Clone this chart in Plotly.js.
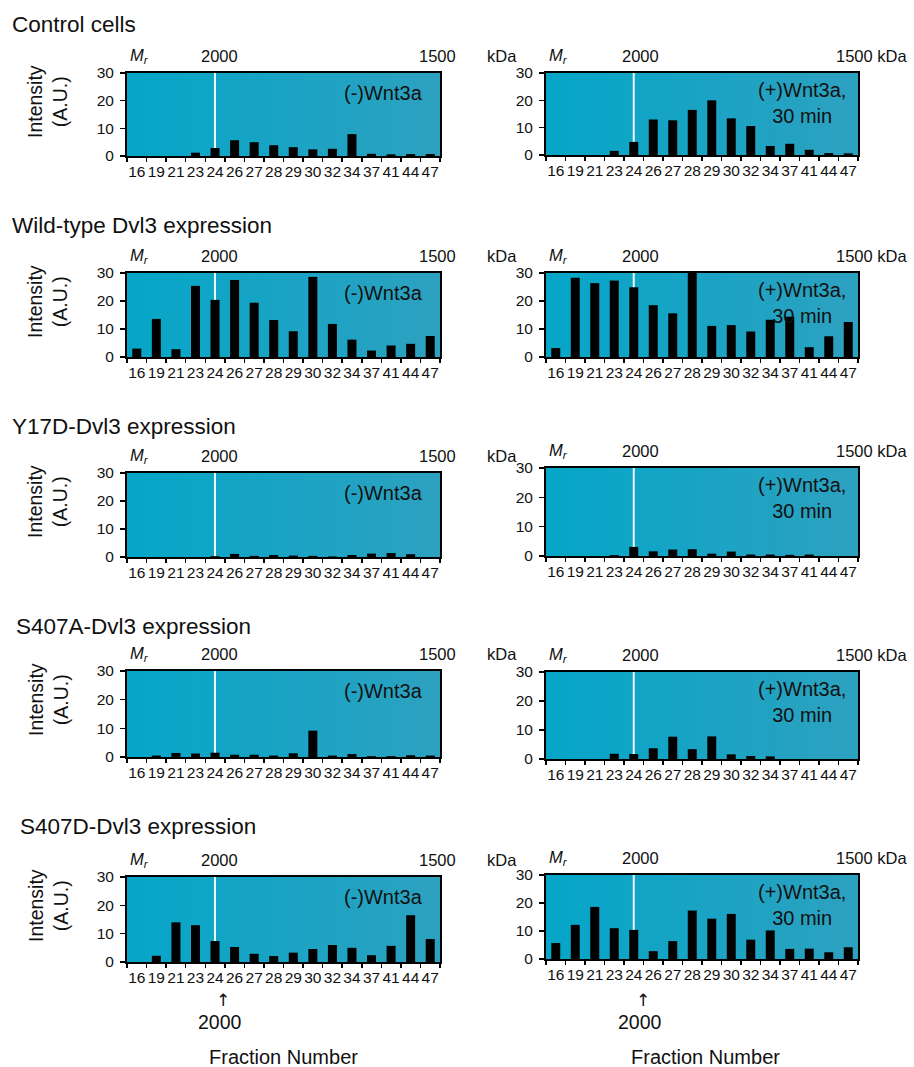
<!DOCTYPE html>
<html><head><meta charset="utf-8">
<script src="https://cdn.plot.ly/plotly-3.0.1.min.js"></script>
<style>html,body{margin:0;padding:0;background:#fff}</style>
</head><body><div id="chart" style="width:914px;height:1067px"></div>
<script>
// ---- data ----
const fractions = ['16','19','21','23','24','26','27','28','29','30','32','34','37','41','44','47'];
const markerFraction = '24';
const rowTitles = ['Control cells','Wild-type Dvl3 expression','Y17D-Dvl3 expression','S407A-Dvl3 expression','S407D-Dvl3 expression'];
const conditionMinus = '(-)Wnt3a';
const conditionPlus = '(+)Wnt3a,<br>30 min';
const controlMinus = [0,0,0,1.2,2.9,5.7,5.0,3.9,3.2,2.4,2.6,7.9,0.8,0.6,0.7,0.7];
const controlPlus  = [0,0,0,1.5,4.8,13.0,12.7,16.5,20.0,13.4,10.6,3.3,4.1,1.9,0.7,0.6];
const wtMinus      = [3.0,13.6,2.8,25.4,20.4,27.5,19.4,13.2,9.2,28.6,11.8,6.2,2.3,4.1,4.7,7.5];
const wtPlus       = [3.2,28.3,26.4,27.3,24.9,18.5,15.6,30.4,11.1,11.4,9.1,13.3,14.4,3.5,7.4,12.5];
const y17dMinus    = [0,0,0,0,0.3,1.1,0.4,0.7,0.5,0.4,0.2,0.7,1.2,1.4,1.0,0];
const y17dPlus     = [0,0,0,0.3,3.1,1.6,2.2,2.3,0.8,1.5,0.5,0.5,0.4,0.5,0,0];
const s407aMinus   = [0,0.5,1.4,1.2,1.5,0.8,0.8,0.5,1.3,9.2,0.5,1.0,0.3,0.3,0.6,0.5];
const s407aPlus    = [0,0,0,1.8,1.7,3.7,7.7,3.4,7.8,1.6,1.0,0.9,0,0,0,0];
const s407dMinus   = [0,2.2,14.0,13.0,7.4,5.3,2.9,2.1,3.3,4.6,6.0,5.0,2.4,5.7,16.5,8.1];
const s407dPlus    = [5.7,12.2,18.6,11.0,10.4,2.8,6.4,17.3,14.4,16.1,6.9,10.2,3.6,3.7,2.4,4.2];
const yTicks = [0,10,20,30];
const mwLabelHigh = '2000';
const mwLabelLow = '1500';

const seriesRows = [
  [controlMinus, controlPlus],
  [wtMinus, wtPlus],
  [y17dMinus, y17dPlus],
  [s407aMinus, s407aPlus],
  [s407dMinus, s407dPlus]
];

// ---- layout geometry (pixels) ----
const W = 914, H = 1067;
const px = x => x / W, py = y => 1 - y / H;
const colX = [[127, 440], [546, 858]];
const rowY = [
  [[73,156],[73,155]],
  [[273,357],[273,357]],
  [[473,557],[468,556]],
  [[671,757],[672,759]],
  [[877,962],[875,959]]
];
const titleX = [10,10,10,14,18];
const titleYs = [25,226,427,626,826];
const font = 'Liberation Sans, Arial, Helvetica, sans-serif';

const bgLeft = [5,166,200], bgRight = [46,161,192];
const NSTRIP = 30;

const data = [], shapes = [], annotations = [];
const layout = {
  width: W, height: H, margin: {l:0,r:0,t:0,b:0},
  paper_bgcolor: '#ffffff', plot_bgcolor: 'rgb(20,164,197)',
  showlegend: false, bargap: 0.54,
  font: {family: font, color: '#111', size: 15}
};

const markerIdx = fractions.indexOf(markerFraction);
let n = 0;
for (let r = 0; r < 5; r++) {
  for (let c = 0; c < 2; c++) {
    n++;
    const xa = n === 1 ? 'xaxis' : 'xaxis' + n;
    const ya = n === 1 ? 'yaxis' : 'yaxis' + n;
    const xr = n === 1 ? 'x' : 'x' + n;
    const yr = n === 1 ? 'y' : 'y' + n;
    const [top, bot] = rowY[r][c];
    const [lft, rgt] = colX[c];
    layout[xa] = {
      domain: [px(lft), px(rgt)], anchor: yr, type: 'category',
      categoryorder: 'array', categoryarray: fractions,
      tickson: 'boundaries', ticks: 'outside', ticklen: 4, tickwidth: 1.5, tickcolor: '#000',
      showline: true, mirror: true, linecolor: '#000', linewidth: 2,
      showgrid: false, zeroline: false, fixedrange: true, tickangle: 0,
      tickfont: {size: 15.5, color: '#111', family: font}
    };
    layout[ya] = {
      domain: [py(bot), py(top)], anchor: xr, range: [0, 30],
      tickvals: yTicks, ticks: 'outside', ticklen: 5, tickwidth: 1.5, tickcolor: '#000',
      showline: true, mirror: true, linecolor: '#000', linewidth: 2,
      showgrid: false, zeroline: false, fixedrange: true, ticklabelstandoff: 3,
      tickfont: {size: 15.5, color: '#111', family: font}
    };
    data.push({
      type: 'bar', x: fractions, y: seriesRows[r][c], xaxis: xr, yaxis: yr,
      marker: {color: '#000', line: {width: 0}}, cliponaxis: false, hoverinfo: 'x+y'
    });
    // gradient background strips
    for (let i = 0; i < NSTRIP; i++) {
      const t = (i + 0.5) / NSTRIP;
      const col = bgLeft.map((v, k) => Math.round(v + (bgRight[k] - v) * t));
      shapes.push({
        type: 'rect', xref: xr + ' domain', yref: yr + ' domain',
        x0: i / NSTRIP, x1: Math.min(1, (i + 1) / NSTRIP + 0.004), y0: 0, y1: 1,
        fillcolor: 'rgb(' + col.join(',') + ')', line: {width: 0}, layer: 'below'
      });
    }
    // white marker line at fraction 24
    shapes.push({
      type: 'line', xref: xr, yref: yr + ' domain',
      x0: markerIdx, x1: markerIdx, y0: 0, y1: 1,
      line: {color: '#eef8fb', width: 2}, layer: 'below'
    });
    // condition label
    if (c === 0) {
      annotations.push({text: conditionMinus, xref: 'paper', yref: 'paper',
        x: px(rgt - 15), y: py(top + 20), xanchor: 'right', yanchor: 'middle',
        showarrow: false, font: {size: 20, color: '#111', family: font}});
    } else {
      annotations.push({text: conditionPlus, xref: 'paper', yref: 'paper',
        x: px(802), y: py(top + 4), xanchor: 'center', yanchor: 'top', align: 'center',
        showarrow: false, font: {size: 20, color: '#111', family: font}});
    }
    // top molecular-weight labels
    const ty = py(top - 17);
    annotations.push({text: '<i>M</i><sub><i>r</i></sub>', xref: 'paper', yref: 'paper',
      x: px(lft + 1), y: ty, xanchor: 'left', yanchor: 'middle', showarrow: false,
      font: {size: 16.5, color: '#111', family: font}});
    annotations.push({text: mwLabelHigh, xref: 'paper', yref: 'paper',
      x: px(c === 0 ? 219 : 640), y: ty, xanchor: 'center', yanchor: 'middle', showarrow: false,
      font: {size: 16.5, color: '#111', family: font}});
    annotations.push({text: c === 0 ? mwLabelLow : mwLabelLow + ' kDa', xref: 'paper', yref: 'paper',
      x: px(c === 0 ? 458 : 909), y: ty, xanchor: 'right', yanchor: 'middle', showarrow: false,
      font: {size: 16.5, color: '#111', family: font}});
    if (c === 0) {
      annotations.push({text: 'kDa', xref: 'paper', yref: 'paper',
        x: px(502), y: ty, xanchor: 'center', yanchor: 'middle', showarrow: false,
        font: {size: 16.5, color: '#111', family: font}});
      annotations.push({text: 'Intensity<br>(A.U.)', xref: 'paper', yref: 'paper',
        x: px(48), y: py(top + 29), xanchor: 'center', yanchor: 'middle', textangle: -90,
        showarrow: false, font: {size: 19.5, color: '#111', family: font}});
    }
    if (r === 4) {
      const ax = c === 0 ? 223 : 643;
      annotations.push({text: '↑', xref: 'paper', yref: 'paper', x: px(ax), y: py(1000),
        xanchor: 'center', yanchor: 'middle', showarrow: false,
        font: {size: 17, color: '#111', family: 'DejaVu Sans, sans-serif'}});
      annotations.push({text: mwLabelHigh, xref: 'paper', yref: 'paper', x: px(c === 0 ? 220 : 640), y: py(1022),
        xanchor: 'center', yanchor: 'middle', showarrow: false,
        font: {size: 19.5, color: '#111', family: font}});
      annotations.push({text: 'Fraction Number', xref: 'paper', yref: 'paper', x: px(c === 0 ? 283 : 705), y: py(1057),
        xanchor: 'center', yanchor: 'middle', showarrow: false,
        font: {size: 20, color: '#111', family: font}});
    }
  }
  annotations.push({text: rowTitles[r], xref: 'paper', yref: 'paper',
    x: px(titleX[r]), y: py(titleYs[r]), xanchor: 'left', yanchor: 'middle', showarrow: false,
    font: {size: 22.5, color: '#111', family: font}});
}
layout.shapes = shapes;
layout.annotations = annotations;
Plotly.newPlot('chart', data, layout, {displayModeBar: false, staticPlot: true});
</script></body></html>
